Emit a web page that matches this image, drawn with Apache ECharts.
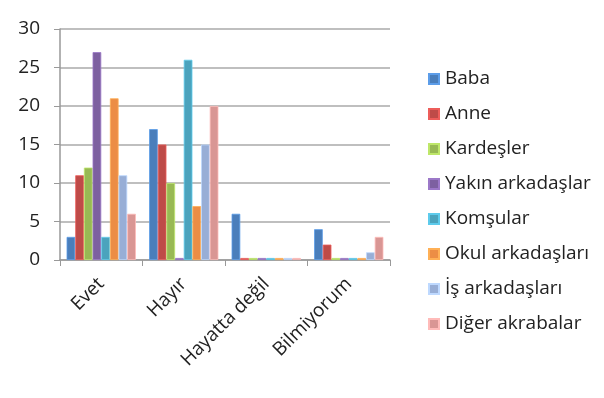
<!DOCTYPE html>
<html><head><meta charset="utf-8">
<script src="https://cdn.jsdelivr.net/npm/echarts@6/dist/echarts.min.js"></script>
<style>html,body{margin:0;padding:0;background:#fff}#c{width:604px;height:398px}</style>
</head><body><div id="c"></div>
<script>
const categories = ['Evet', 'Hayır', 'Hayatta değil', 'Bilmiyorum'];
const seriesNames = ['Baba', 'Anne', 'Kardeşler', 'Yakın arkadaşlar', 'Komşular', 'Okul arkadaşları', 'İş arkadaşları', 'Diğer akrabalar'];
const baba = [3, 17, 6, 4];
const anne = [11, 15, 0, 2];
const kardesler = [12, 10, 0, 0];
const yakin = [27, 0, 0, 0];
const komsular = [3, 26, 0, 0];
const okul = [21, 7, 0, 0];
const is = [11, 15, 0, 1];
const diger = [6, 20, 0, 3];
const yTicks = [0, 5, 10, 15, 20, 25, 30];
const colors = ['#4A7EBB', '#BE4B48', '#98B954', '#7D60A0', '#4BA3BD', '#EC8D45', '#98AED6', '#D99694'];
const values = [baba, anne, kardesler, yakin, komsular, okul, is, diger];

const chart = echarts.init(document.getElementById('c'));
chart.setOption({
  animation: false,
  textStyle: { fontFamily: 'Open Sans' },
  grid: { left: 60, right: 214, top: 29, bottom: 138 },
  legend: {
    orient: 'vertical', left: 423, top: 64, itemGap: 15,
    itemWidth: 10, itemHeight: 10, icon: 'rect',
    textStyle: { fontSize: 19, lineHeight: 20, color: '#222', fontFamily: 'Open Sans', padding: [0, 0, 0, 1] },
    data: seriesNames
  },
  xAxis: {
    type: 'category', data: categories,
    axisLine: { lineStyle: { color: '#999', width: 1.5 } },
    axisTick: { show: true, length: 6, lineStyle: { color: '#999' } },
    axisLabel: { rotate: 45, fontSize: 19, color: '#222', margin: 21, interval: 0 }
  },
  yAxis: {
    type: 'value', min: 0, max: 30, interval: 5,
    axisLine: { show: true, lineStyle: { color: '#999', width: 1.5 } },
    axisTick: { show: true, length: 6, lineStyle: { color: '#999' } },
    axisLabel: { fontSize: 19, color: '#222', margin: 20 },
    splitLine: { lineStyle: { color: '#aaa', width: 1.5 } }
  },
  series: seriesNames.map((n, i) => ({
    name: n, type: 'bar', data: values[i],
    barGap: '0%', barCategoryGap: '16%', barMinHeight: 2,
    itemStyle: { color: colors[i], borderColor: echarts.color.lift(colors[i], -0.25), borderWidth: 0.8 }
  }))
});
</script></body></html>
